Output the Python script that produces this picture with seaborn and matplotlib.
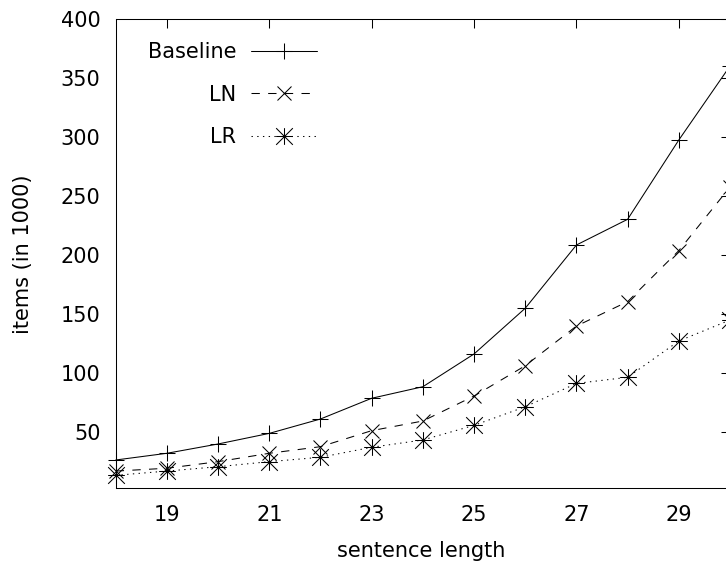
import numpy as np
import pandas as pd
import matplotlib
matplotlib.use("Agg")
import matplotlib.pyplot as plt
from matplotlib.path import Path
import seaborn as sns

# sentence length vs. number of items (thousands)
lengths = [18, 19, 20, 21, 22, 23, 24, 25, 26, 27, 28, 29, 30]
baseline = [26, 31.7, 39.6, 48.6, 60.8, 78.4, 88.2, 116, 154.8, 208.5, 230.3, 297.6, 360.4]
ln = [16.6, 19, 24.6, 31.7, 37.3, 50.9, 59.1, 80.3, 106, 139.7, 160.4, 203.7, 257.7]
lr = [13, 16.6, 20.3, 24.6, 28.3, 36.8, 43, 55.4, 71.2, 91, 96.2, 127, 144.8]

series_names = ["Baseline", "LN", "LR"]
x_ticks = [19, 21, 23, 25, 27, 29]
y_ticks = [50, 100, 150, 200, 250, 300, 350, 400]

df = pd.DataFrame({
    "sentence length": lengths * 3,
    "items": baseline + ln + lr,
    "method": np.repeat(series_names, len(lengths)),
})

sns.set_theme(style="white")
plt.rcParams["font.family"] = ["DejaVu Sans"]
plt.rcParams["font.size"] = 15
plt.rcParams["text.color"] = "black"

# asterisk marker: a plus and a cross laid over each other
asterisk = Path(
    [(-1, 0), (1, 0), (0, -1), (0, 1), (-1, -1), (1, 1), (-1, 1), (1, -1)],
    [Path.MOVETO, Path.LINETO] * 4,
)

styles = {
    "Baseline": dict(marker="+", markersize=12, ls="-"),
    "LN": dict(marker="x", markersize=10, ls=(0, (8, 8))),
    "LR": dict(marker=asterisk, markersize=12, ls=(0, (1.3, 4.2))),
}

fig = plt.figure(figsize=(7.26, 5.65), dpi=100)
ax = fig.add_axes([0.1594, 0.1358, 0.8461, 0.8299])

lw = 0.75
for name in series_names:
    st = styles[name]
    sub = df[df["method"] == name]
    sns.lineplot(
        data=sub, x="sentence length", y="items", ax=ax,
        color="black", linewidth=lw, linestyle=st["ls"],
        marker=st["marker"], markersize=st["markersize"],
        markeredgewidth=lw, markerfacecolor="none", markeredgecolor="black",
        label=name, legend=False, clip_on=False,
    )

ax.set_xlim(18, 30)
ax.set_ylim(2, 400)
ax.set_xticks(x_ticks)
ax.set_yticks(y_ticks)

for sp in ax.spines.values():
    sp.set_visible(True)
    sp.set_color("black")
    sp.set_linewidth(lw)

ax.tick_params(axis="both", which="major", direction="in", length=6.5,
               width=lw, color="black", labelsize=15, labelcolor="black",
               top=True, right=True)
ax.tick_params(axis="x", pad=12)
ax.tick_params(axis="y", pad=11)

ax.set_xlabel("sentence length", fontsize=15, color="black")
ax.set_ylabel("items (in 1000)", fontsize=15, color="black")
ax.xaxis.set_label_coords(0.498, -0.1117)
ax.yaxis.set_label_coords(-0.135, 0.5)

handles = ax.get_lines()[:3]
leg = ax.legend(
    handles, series_names, loc="upper right", bbox_to_anchor=(0.327, 0.9516),
    markerfirst=False, frameon=False, numpoints=1, handlelength=3.17,
    handletextpad=0.69, labelspacing=1.08, borderpad=0, borderaxespad=0,
    fontsize=15,
)
for t in leg.get_texts():
    t.set_color("black")

fig.savefig("out.png", dpi=100)
